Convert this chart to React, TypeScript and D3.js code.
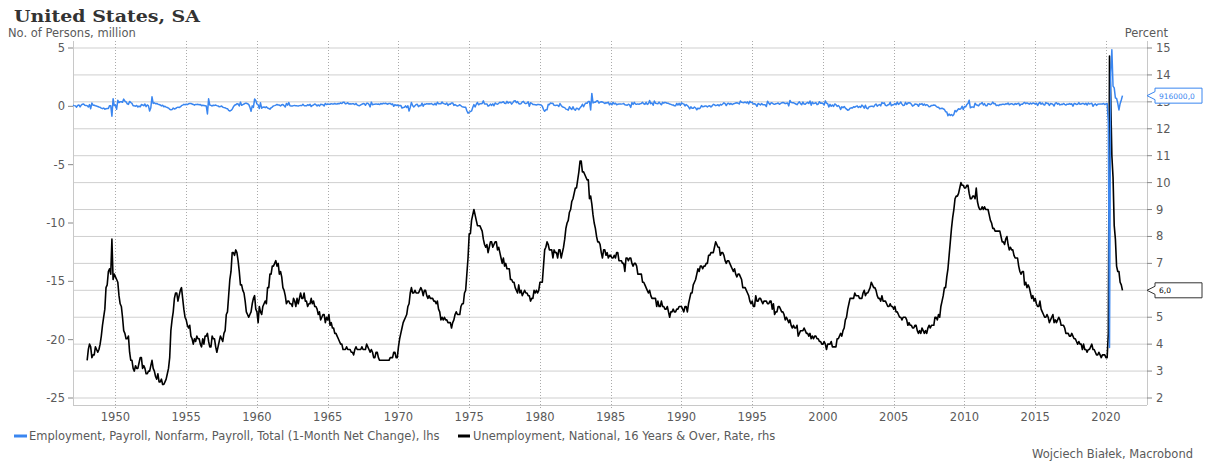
import React from "react";
import * as d3 from "d3";

// monthly net change in nonfarm payrolls, thousands (from Jan 1947)
const payroll1940s = [
  90, 60, 40, -70, 80, 120, -50, 110, 180, 200, 100, 80,
  60, -60, 150, -200, 280, 100, 90, 50, 30, -20, -60, -80,
  -150, -200, -150, -250, -200, -190, -180, 60, 60, -850, 650, 60,
];
const payroll1950s = [
  120, -250, 520, 320, 400, 390, 350, 620, 450, 380, 220, 170,
  420, 330, 250, 50, 40, 10, 70, -60, 20, -40, 150, 120,
  50, 200, -30, 120, 40, -400, -120, 820, 250, 300, 230, 250,
  180, 160, 120, 40, 90, -30, 10, -70, -100, -150, -250, -300,
  -280, -150, -230, -190, -110, -70, -100, -50, 60, 110, 170, 140,
  180, 150, 220, 250, 240, 200, 160, 100, 160, 150, 170, 130,
  160, 60, 90, 70, 50, 30, -650, 640, 110, 80, 30, 100,
  80, 110, 60, 30, -40, -20, 30, -70, -110, -130, -180, -200,
  -350, -400, -350, -250, -50, 90, 130, 220, 200, 30, 360, 90,
  150, 200, 260, 260, 220, 170, -70, -420, 40, -90, 620, 500,
];
const payroll1960s = [
  200, 130, -190, 300, -160, -70, -60, -110, -40, -140, -180, -250,
  -120, -60, 40, 60, 100, 160, 110, 110, 40, 130, 150, 60,
  -60, 240, 100, 320, 40, 30, 30, 60, 80, 40, 40, 20,
  60, 80, 60, 180, 60, 60, 40, 140, 80, 170, -20, 80,
  120, 200, 140, 40, 120, 30, 170, 160, 140, 40, 250, 150,
  200, 180, 180, 230, 190, 190, 240, 190, 200, 250, 230, 300,
  240, 340, 350, 210, 240, 310, 200, 220, 200, 230, 220, 150,
  250, 120, 70, 60, 130, 180, 240, 230, 90, 260, 270, 170,
  -50, 360, 130, 170, 180, 210, 180, 200, 150, 240, 200, 260,
  230, 260, 220, 180, 250, 250, 160, 210, 0, 150, 70, 120,
];
const payroll1970s = [
  30, 80, 80, -150, -100, -80, 40, -100, 50, -400, -90, 330,
  70, -50, 50, 150, 170, -30, 80, 50, 270, 10, 190, 170,
  230, 200, 220, 210, 240, 160, 130, 250, 120, 350, 230, 220,
  220, 370, 250, 210, 170, 290, 70, 200, 170, 290, 290, 80,
  150, 90, 30, 60, 140, 50, -40, -50, -70, -80, -380, -590,
  -500, -450, -390, -100, 150, -60, 180, 330, 130, 220, 220, 250,
  470, 200, 210, 210, 20, 70, 190, 80, 210, 50, 290, 210,
  180, 260, 350, 300, 350, 390, 270, 240, 430, 270, 360, 350,
  190, 320, 460, 480, 320, 410, 240, 190, 230, 380, 430, 280,
  230, 280, 380, 10, 310, 260, 160, 150, 140, 120, 160, 150,
];
const payroll1980s = [
  140, 120, 10, -280, -420, -300, -290, 170, 140, 290, 250, 260,
  90, 80, 90, 90, -10, 240, 80, -40, -80, -110, -240, -260,
  -330, -30, -180, -270, -40, -250, -340, -160, -180, -280, -130, -20,
  180, -40, 180, 280, 260, 420, 420, -310, 1110, 290, 350, 360,
  450, 480, 280, 360, 390, 370, 320, 240, 310, 290, 350, 130,
  270, 130, 340, 200, 270, 140, 180, 200, 200, 190, 210, 250,
  130, 110, 90, 180, 130, -90, 320, 170, 340, 200, 180, 210,
  170, 230, 250, 340, 220, 170, 350, 170, 230, 500, 230, 290,
  90, 450, 270, 240, 220, 360, 230, 130, 340, 270, 340, 310,
  260, 260, 190, 170, 120, 120, 40, 40, 250, 110, 250, 80,
];
const payroll1990s = [
  300, 230, 200, 30, 150, 70, -40, -220, -40, -160, -160, -60,
  -140, -300, -150, -210, -130, 60, -40, -20, 30, 20, -50, 30,
  50, -60, 40, 170, 130, 60, 90, 130, 40, 170, 110, 200,
  300, 240, 70, 240, 260, 170, 250, 150, 220, 240, 280, 300,
  270, 200, 460, 340, 330, 310, 370, 290, 380, 210, 430, 320,
  330, 210, 220, 160, -10, 240, 190, 120, 240, 140, 140, 130,
  -20, 440, 280, 150, 300, 280, 200, 170, 220, 240, 280, 180,
  230, 310, 320, 300, 230, 260, 290, 40, 500, 340, 300, 310,
  260, 200, 140, 280, 380, 230, 130, 370, 200, 180, 280, 340,
  240, 460, 100, 360, 230, 260, 320, 140, 200, 400, 270, 290,
];
const payroll2000s = [
  240, 120, 470, 280, 220, -50, 170, 0, 120, 0, 200, 140,
  -10, 70, -30, -270, -40, -120, -20, -150, -240, -330, -290, -170,
  -130, -140, -30, -80, 0, 40, -100, -10, -90, 110, 10, -160,
  100, -160, -210, -50, -10, 10, 10, -40, 110, 200, 10, 100,
  150, 40, 330, 250, 300, 80, 40, 120, 150, 350, 60, 130,
  130, 240, 140, 360, 170, 240, 370, 190, 70, 90, 340, 160,
  280, 310, 280, 180, 20, 80, 200, 180, 160, 0, 210, 170,
  230, 90, 190, 80, 140, 80, -30, -20, 80, 80, 110, 100,
  10, -80, -80, -210, -190, -170, -210, -270, -460, -480, -800, -660,
  -780, -700, -800, -690, -350, -470, -340, -210, -260, -200, 10, -270,
];
const payroll2010s = [
  -10, -50, 150, 250, 520, -130, -60, -50, -90, 260, 130, 90,
  40, 200, 220, 330, 110, 230, 50, 40, 230, 200, 140, 210,
  360, 220, 240, 70, 100, 60, 160, 130, 180, 170, 150, 220,
  190, 280, 140, 200, 230, 180, 140, 240, 180, 230, 270, 60,
  190, 170, 270, 330, 230, 290, 240, 190, 280, 200, 280, 260,
  190, 270, 70, 250, 340, 180, 280, 150, 110, 320, 250, 260,
  80, 240, 220, 170, 30, 270, 300, 180, 250, 120, 170, 150,
  250, 170, 110, 190, 170, 240, 180, 220, 20, 240, 220, 160,
  180, 320, 180, 190, 250, 240, 170, 270, 110, 280, 200, 230,
  270, 10, 150, 210, 80, 180, 190, 210, 190, 190, 250, 150,
];
const payroll2020s = [
  210, 250, -1370, -20680, 2830, 4850, 1730, 1580, 720, 680, 260, -310,
  230, 540, 916,
];

// unemployment rate, percent (from Jan 1948)
const unrate1940s = [
  3.4, 3.8, 4.0, 3.9, 3.5, 3.6, 3.6, 3.9, 3.8, 3.7, 3.8, 4.0,
  4.3, 4.7, 5.0, 5.3, 6.1, 6.2, 6.7, 6.8, 6.6, 7.9, 6.4, 6.6,
];
const unrate1950s = [
  6.5, 6.4, 6.3, 5.8, 5.5, 5.4, 5.0, 4.5, 4.4, 4.2, 4.2, 4.3,
  3.7, 3.4, 3.4, 3.1, 3.0, 3.2, 3.1, 3.1, 3.3, 3.5, 3.5, 3.1,
  3.2, 3.1, 2.9, 2.9, 3.0, 3.0, 3.2, 3.4, 3.1, 3.0, 2.8, 2.7,
  2.9, 2.6, 2.6, 2.7, 2.5, 2.5, 2.6, 2.7, 2.9, 3.1, 3.5, 4.5,
  4.9, 5.2, 5.7, 5.9, 5.9, 5.6, 5.8, 6.0, 6.1, 5.7, 5.3, 5.0,
  4.9, 4.7, 4.6, 4.7, 4.3, 4.2, 4.0, 4.2, 4.1, 4.3, 4.2, 4.2,
  4.0, 3.9, 4.2, 4.0, 4.3, 4.3, 4.4, 4.1, 3.9, 3.9, 4.3, 4.2,
  4.2, 3.9, 3.7, 3.9, 4.1, 4.3, 4.2, 4.1, 4.4, 4.5, 5.1, 5.2,
  5.8, 6.4, 6.7, 7.4, 7.4, 7.3, 7.5, 7.4, 7.1, 6.7, 6.2, 6.2,
  6.0, 5.9, 5.6, 5.2, 5.1, 5.0, 5.1, 5.2, 5.5, 5.7, 5.8, 5.3,
];
const unrate1960s = [
  5.2, 4.8, 5.4, 5.2, 5.1, 5.4, 5.5, 5.6, 5.5, 6.1, 6.1, 6.6,
  6.6, 6.9, 6.9, 7.0, 7.1, 6.9, 7.0, 6.6, 6.7, 6.5, 6.1, 6.0,
  5.8, 5.5, 5.6, 5.6, 5.5, 5.5, 5.4, 5.7, 5.6, 5.4, 5.7, 5.5,
  5.7, 5.9, 5.7, 5.7, 5.9, 5.6, 5.6, 5.4, 5.5, 5.5, 5.7, 5.5,
  5.6, 5.4, 5.4, 5.3, 5.1, 5.2, 4.9, 5.0, 5.1, 5.1, 4.8, 5.0,
  4.9, 5.1, 4.7, 4.8, 4.6, 4.6, 4.4, 4.4, 4.3, 4.2, 4.1, 4.0,
  4.0, 3.8, 3.8, 3.8, 3.9, 3.8, 3.8, 3.8, 3.7, 3.7, 3.6, 3.8,
  3.9, 3.8, 3.8, 3.8, 3.8, 3.9, 3.8, 3.8, 3.8, 4.0, 3.9, 3.8,
  3.7, 3.8, 3.7, 3.5, 3.5, 3.7, 3.7, 3.5, 3.4, 3.4, 3.4, 3.4,
  3.4, 3.4, 3.4, 3.4, 3.4, 3.5, 3.5, 3.5, 3.7, 3.7, 3.5, 3.5,
];
const unrate1970s = [
  3.9, 4.2, 4.4, 4.6, 4.8, 4.9, 5.0, 5.1, 5.4, 5.5, 5.9, 6.1,
  5.9, 5.9, 6.0, 5.9, 5.9, 5.9, 6.0, 6.1, 6.0, 5.8, 6.0, 6.0,
  5.8, 5.7, 5.8, 5.7, 5.7, 5.7, 5.6, 5.6, 5.5, 5.6, 5.3, 5.2,
  4.9, 5.0, 4.9, 5.0, 4.9, 4.9, 4.8, 4.8, 4.8, 4.6, 4.8, 4.9,
  5.1, 5.2, 5.1, 5.1, 5.1, 5.4, 5.5, 5.5, 5.9, 6.0, 6.6, 7.2,
  8.1, 8.1, 8.6, 8.8, 9.0, 8.8, 8.6, 8.4, 8.4, 8.4, 8.3, 8.2,
  7.9, 7.7, 7.6, 7.7, 7.4, 7.6, 7.8, 7.8, 7.6, 7.7, 7.8, 7.8,
  7.5, 7.6, 7.4, 7.2, 7.0, 7.2, 6.9, 7.0, 6.8, 6.8, 6.8, 6.4,
  6.4, 6.3, 6.3, 6.1, 6.0, 5.9, 6.2, 5.9, 6.0, 5.8, 5.9, 6.0,
  5.9, 5.9, 5.8, 5.8, 5.6, 5.7, 5.7, 6.0, 5.9, 6.0, 5.9, 6.0,
];
const unrate1980s = [
  6.3, 6.3, 6.3, 6.9, 7.5, 7.6, 7.8, 7.7, 7.5, 7.5, 7.5, 7.2,
  7.5, 7.4, 7.4, 7.2, 7.5, 7.5, 7.2, 7.4, 7.6, 7.9, 8.3, 8.5,
  8.6, 8.9, 9.0, 9.3, 9.4, 9.6, 9.8, 9.8, 10.1, 10.4, 10.8, 10.8,
  10.4, 10.4, 10.3, 10.2, 10.1, 10.1, 9.4, 9.5, 9.2, 8.8, 8.5, 8.3,
  8.0, 7.8, 7.8, 7.7, 7.4, 7.2, 7.5, 7.5, 7.3, 7.4, 7.2, 7.3,
  7.3, 7.2, 7.2, 7.3, 7.2, 7.4, 7.4, 7.1, 7.1, 7.1, 7.0, 7.0,
  6.7, 7.2, 7.2, 7.1, 7.2, 7.2, 7.0, 6.9, 7.0, 7.0, 6.9, 6.6,
  6.6, 6.6, 6.6, 6.3, 6.3, 6.2, 6.1, 6.0, 5.9, 6.0, 5.8, 5.7,
  5.7, 5.7, 5.7, 5.4, 5.6, 5.4, 5.4, 5.6, 5.4, 5.4, 5.3, 5.3,
  5.4, 5.2, 5.0, 5.2, 5.2, 5.3, 5.2, 5.2, 5.3, 5.3, 5.4, 5.4,
];
const unrate1990s = [
  5.4, 5.3, 5.2, 5.4, 5.4, 5.2, 5.5, 5.7, 5.9, 5.9, 6.2, 6.3,
  6.4, 6.6, 6.8, 6.7, 6.9, 6.9, 6.8, 6.9, 6.9, 7.0, 7.0, 7.3,
  7.3, 7.4, 7.4, 7.4, 7.6, 7.8, 7.7, 7.6, 7.6, 7.3, 7.4, 7.4,
  7.3, 7.1, 7.0, 7.1, 7.1, 7.0, 6.9, 6.8, 6.7, 6.8, 6.6, 6.5,
  6.6, 6.6, 6.5, 6.4, 6.1, 6.1, 6.1, 6.0, 5.9, 5.8, 5.6, 5.5,
  5.6, 5.4, 5.4, 5.8, 5.6, 5.6, 5.7, 5.7, 5.6, 5.5, 5.6, 5.6,
  5.6, 5.5, 5.5, 5.6, 5.6, 5.3, 5.5, 5.1, 5.2, 5.2, 5.4, 5.4,
  5.3, 5.2, 5.2, 5.1, 4.9, 5.0, 4.9, 4.8, 4.9, 4.7, 4.6, 4.7,
  4.6, 4.6, 4.7, 4.3, 4.4, 4.5, 4.5, 4.5, 4.6, 4.5, 4.4, 4.4,
  4.3, 4.4, 4.2, 4.3, 4.2, 4.3, 4.3, 4.2, 4.2, 4.1, 4.1, 4.0,
];
const unrate2000s = [
  4.0, 4.1, 4.0, 3.8, 4.0, 4.0, 4.0, 4.1, 3.9, 3.9, 3.9, 3.9,
  4.2, 4.2, 4.3, 4.4, 4.3, 4.5, 4.6, 4.9, 5.0, 5.3, 5.5, 5.7,
  5.7, 5.7, 5.7, 5.9, 5.8, 5.8, 5.8, 5.7, 5.7, 5.7, 5.9, 6.0,
  5.8, 5.9, 5.9, 6.0, 6.1, 6.3, 6.2, 6.1, 6.1, 6.0, 5.8, 5.7,
  5.7, 5.6, 5.8, 5.6, 5.6, 5.6, 5.5, 5.4, 5.4, 5.5, 5.4, 5.4,
  5.3, 5.4, 5.2, 5.2, 5.1, 5.0, 5.0, 4.9, 5.0, 5.0, 5.0, 4.9,
  4.7, 4.8, 4.7, 4.7, 4.6, 4.6, 4.7, 4.7, 4.5, 4.4, 4.5, 4.4,
  4.6, 4.5, 4.4, 4.5, 4.4, 4.6, 4.7, 4.6, 4.7, 4.7, 4.7, 5.0,
  5.0, 4.9, 5.1, 5.0, 5.4, 5.6, 5.8, 6.1, 6.1, 6.5, 6.8, 7.3,
  7.8, 8.3, 8.7, 9.0, 9.4, 9.5, 9.5, 9.6, 9.8, 10.0, 9.9, 9.9,
];
const unrate2010s = [
  9.8, 9.8, 9.9, 9.9, 9.6, 9.4, 9.4, 9.5, 9.5, 9.4, 9.8, 9.3,
  9.1, 9.0, 9.0, 9.1, 9.0, 9.1, 9.0, 9.0, 9.0, 8.8, 8.6, 8.5,
  8.3, 8.3, 8.2, 8.2, 8.2, 8.2, 8.2, 8.0, 7.8, 7.8, 7.7, 7.9,
  8.0, 7.7, 7.5, 7.6, 7.5, 7.5, 7.3, 7.2, 7.2, 7.2, 6.9, 6.7,
  6.6, 6.7, 6.7, 6.2, 6.3, 6.1, 6.2, 6.1, 5.9, 5.7, 5.8, 5.6,
  5.7, 5.5, 5.4, 5.4, 5.6, 5.3, 5.2, 5.1, 5.0, 5.0, 5.1, 5.0,
  4.8, 4.9, 5.0, 5.1, 4.8, 4.9, 4.8, 4.9, 5.0, 4.9, 4.7, 4.7,
  4.7, 4.6, 4.4, 4.4, 4.4, 4.3, 4.3, 4.4, 4.3, 4.2, 4.2, 4.1,
  4.0, 4.1, 4.0, 4.0, 3.8, 4.0, 3.8, 3.8, 3.7, 3.8, 3.8, 3.9,
  4.0, 3.8, 3.8, 3.7, 3.6, 3.6, 3.7, 3.6, 3.5, 3.6, 3.6, 3.6,
];
const unrate2020s = [
  3.5, 3.5, 4.4, 14.7, 13.2, 11.0, 10.2, 8.4, 7.9, 6.9, 6.7, 6.7,
  6.3, 6.2, 6.0,
];

const yearTicks = [1950, 1955, 1960, 1965, 1970, 1975, 1980, 1985, 1990, 1995, 2000, 2005, 2010, 2015, 2020];
const leftTicks = [5, 0, -5, -10, -15, -20, -25];
const rightTicks = [15, 14, 13, 12, 11, 10, 9, 8, 7, 6, 5, 4, 3, 2];

const payroll = [
  ...payroll1940s, ...payroll1950s, ...payroll1960s, ...payroll1970s,
  ...payroll1980s, ...payroll1990s, ...payroll2000s, ...payroll2010s, ...payroll2020s,
].map((v, i) => ({ t: 1947 + i / 12, v: v / 1000 }));
const unrate = [
  ...unrate1940s, ...unrate1950s, ...unrate1960s, ...unrate1970s,
  ...unrate1980s, ...unrate1990s, ...unrate2000s, ...unrate2010s, ...unrate2020s,
].map((v, i) => ({ t: 1948 + i / 12, v }));

const W = 1206, H = 463;
const left = 73, right = 1147, top = 41, bottom = 405;
const font = "'DejaVu Sans', Verdana, sans-serif";
const txt = "#5a5a5a";
const blue = "#3a86f0";

export default function App() {
  const x = d3.scaleLinear().domain([1947, 2022.9]).range([left, right]);
  const yL = d3.scaleLinear().domain([-25, 5]).range([398, 48]);
  const yR = d3.scaleLinear().domain([2, 15]).range([398, 48]);

  const lineL = d3.line<{ t: number; v: number }>().x(d => x(d.t)).y(d => yL(d.v));
  const lineR = d3.line<{ t: number; v: number }>().x(d => x(d.t)).y(d => yR(d.v));

  const lastP = payroll[payroll.length - 1];
  const lastU = unrate[unrate.length - 1];

  const tag = (yy: number) => {
    const bx = right + 8, bw = 47, bh = 15;
    return `M${right},${yy} L${bx},${yy - 4} L${bx},${yy - bh / 2} L${bx + bw},${yy - bh / 2} L${bx + bw},${yy + bh / 2} L${bx},${yy + bh / 2} L${bx},${yy + 4} Z`;
  };

  return (
    <svg width={W} height={H} style={{ position: "absolute", left: 0, top: 0, background: "#fff" }}>
      <text x={14} y={22} fontFamily="'DejaVu Serif', serif" fontWeight="bold" fontSize={17.5}
        textLength={186} lengthAdjust="spacingAndGlyphs" fill="#333">
        United States, SA
      </text>
      <text x={8} y={37} fontFamily={font} fontSize={11.5} fill={txt}>No. of Persons, million</text>
      <text x={1168} y={37} textAnchor="end" fontFamily={font} fontSize={11.5} fill={txt}>Percent</text>

      {/* horizontal grid */}
      {rightTicks.map(t => (
        <line key={"g" + t} x1={left} x2={right} y1={yR(t)} y2={yR(t)} stroke="#cfcfcf" strokeWidth={1} />
      ))}
      {/* vertical dotted grid */}
      {yearTicks.map(t => (
        <line key={"v" + t} x1={Math.round(x(t)) + 0.5} x2={Math.round(x(t)) + 0.5} y1={top} y2={bottom + 4}
          stroke="#aaa" strokeWidth={1} strokeDasharray="1,2" />
      ))}

      {/* axis frame */}
      <line x1={left + 0.5} x2={left + 0.5} y1={top} y2={bottom} stroke="#c8c8c8" />
      <line x1={right + 0.5} x2={right + 0.5} y1={top} y2={bottom} stroke="#c8c8c8" />
      <line x1={left} x2={right} y1={bottom + 0.5} y2={bottom + 0.5} stroke="#c8c8c8" />

      {leftTicks.map(t => (
        <g key={"l" + t}>
          <line x1={left - 5} x2={left} y1={yL(t)} y2={yL(t)} stroke="#888" />
          <text x={left - 8} y={yL(t) + 4} textAnchor="end" fontFamily={font} fontSize={11.5} fill={txt}>{t}</text>
        </g>
      ))}
      {rightTicks.map(t => (
        <g key={"r" + t}>
          <line x1={right} x2={right + 5} y1={yR(t)} y2={yR(t)} stroke="#888" />
          <text x={right + 9} y={yR(t) + 4} fontFamily={font} fontSize={11.5} fill={txt}>{t}</text>
        </g>
      ))}
      {yearTicks.map(t => (
        <text key={"x" + t} x={x(t)} y={421} textAnchor="middle" fontFamily={font} fontSize={11.5} fill={txt}>{t}</text>
      ))}

      <path d={lineR(unrate) || ""} fill="none" stroke="#000" strokeWidth={1.6} strokeLinejoin="round" />
      <path d={lineL(payroll) || ""} fill="none" stroke={blue} strokeWidth={1.5} strokeLinejoin="round" />

      {/* last value tags */}
      <path d={tag(yL(lastP.v))} fill="#fff" stroke={blue} strokeWidth={1} />
      <text x={right + 12} y={yL(lastP.v) + 3} fontFamily={font} fontSize={7.5} fill={blue}>916000,0</text>
      <path d={tag(yR(lastU.v))} fill="#fff" stroke="#333" strokeWidth={1} />
      <text x={right + 12} y={yR(lastU.v) + 3} fontFamily={font} fontSize={7.5} fill="#000">6,0</text>

      {/* legend */}
      <line x1={14} x2={27} y1={436} y2={436} stroke={blue} strokeWidth={3} />
      <text x={29} y={440} fontFamily={font} fontSize={11.5} fill={txt}>
        Employment, Payroll, Nonfarm, Payroll, Total (1-Month Net Change), lhs
      </text>
      <line x1={458} x2={470} y1={436} y2={436} stroke="#000" strokeWidth={3} />
      <text x={473} y={440} fontFamily={font} fontSize={11.5} fill={txt}>
        Unemployment, National, 16 Years &amp; Over, Rate, rhs
      </text>
      <text x={1193} y={458} textAnchor="end" fontFamily={font} fontSize={11.5} fill={txt}>
        Wojciech Białek, Macrobond
      </text>
    </svg>
  );
}
